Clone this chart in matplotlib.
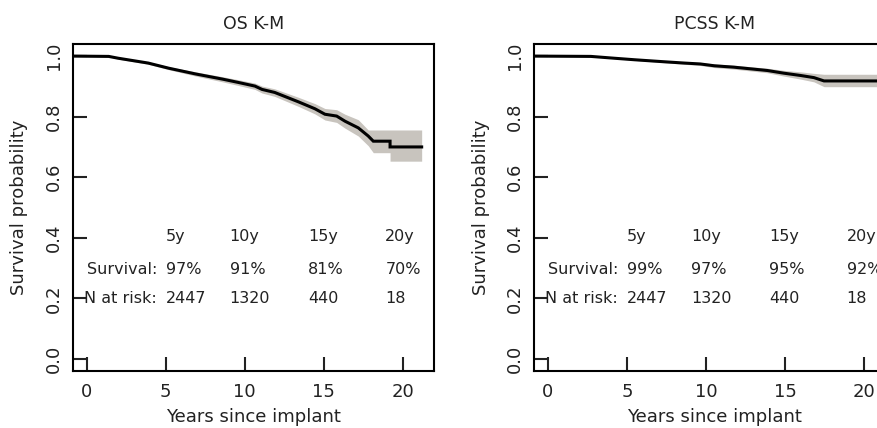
import matplotlib
matplotlib.use('Agg')
import matplotlib.pyplot as plt

# OS Kaplan-Meier curve and 95% band
os_t = [-0.75, 1.4, 2.0, 3.9, 5.2, 6.9, 8.6, 9.6, 10.65, 11.1, 11.9, 13.4, 14.45, 15.08, 15.82, 16.35, 17.19, 17.82, 18.14, 19.2, 19.2, 21.2]
os_s = [1.0, 0.999, 0.993, 0.977, 0.960, 0.941, 0.924, 0.913, 0.901, 0.890, 0.880, 0.849, 0.826, 0.808, 0.802, 0.785, 0.763, 0.736, 0.719, 0.719, 0.700, 0.700]
os_lo = [1.0, 0.998, 0.990, 0.973, 0.955, 0.934, 0.915, 0.903, 0.890, 0.878, 0.867, 0.834, 0.809, 0.789, 0.781, 0.762, 0.736, 0.704, 0.681, 0.681, 0.653, 0.653]
os_hi = [1.0, 1.0, 0.996, 0.981, 0.965, 0.948, 0.932, 0.922, 0.911, 0.901, 0.892, 0.864, 0.843, 0.827, 0.823, 0.808, 0.790, 0.756, 0.756, 0.756, 0.756, 0.756]

# PCSS Kaplan-Meier curve and 95% band
pc_t = [-0.75, 2.72, 4.2, 5.47, 7.16, 8.64, 9.65, 10.54, 11.76, 13.88, 14.93, 15.99, 16.83, 17.47, 21.2]
pc_s = [1.0, 0.999, 0.993, 0.988, 0.982, 0.977, 0.974, 0.968, 0.9635, 0.9525, 0.9436, 0.936, 0.929, 0.918, 0.918]
pc_lo = [1.0, 0.999, 0.992, 0.986, 0.979, 0.973, 0.969, 0.962, 0.957, 0.945, 0.934, 0.924, 0.915, 0.899, 0.899]
pc_hi = [1.0, 1.0, 0.995, 0.990, 0.985, 0.981, 0.979, 0.974, 0.970, 0.960, 0.953, 0.948, 0.943, 0.940, 0.940]

cols = ['5y', '10y', '15y', '20y']
col_x = [5.0, 9.05, 14.0, 18.9]
n_risk = ['2447', '1320', '440', '18']
os_pct = ['97%', '91%', '81%', '70%']
pc_pct = ['99%', '97%', '95%', '92%']

plt.rcParams['font.family'] = 'DejaVu Sans'
fig = plt.figure(figsize=(8.78, 4.28), dpi=100)
band = '#c8c4be'
ink = '#222222'

panels = [
    ('OS K-M', os_t, os_s, os_lo, os_hi, os_pct, [0.0828, 0.1332, 0.4115, 0.764]),
    ('PCSS K-M', pc_t, pc_s, pc_lo, pc_hi, pc_pct, [0.6082, 0.1332, 0.4115, 0.764]),
]

for title, t, s, lo, hi, pct, pos in panels:
    ax = fig.add_axes(pos)
    ax.fill_between(t, lo, hi, color=band, linewidth=0)
    ax.plot(t, s, color='black', linewidth=2.2, solid_joinstyle='miter')
    ax.set_xlim(-0.88, 21.98)
    ax.set_ylim(-0.04, 1.04)
    ax.set_xticks([0, 5, 10, 15, 20])
    ax.set_yticks([0.0, 0.2, 0.4, 0.6, 0.8, 1.0])
    ax.set_yticklabels(['0.0', '0.2', '0.4', '0.6', '0.8', '1.0'], rotation=90, va='center')
    ax.tick_params(direction='in', length=10, width=1.5, labelsize=13, colors=ink)
    ax.tick_params(axis='y', pad=7)
    ax.tick_params(axis='x', pad=9)
    for sp in ax.spines.values():
        sp.set_linewidth(1.5)
    ax.set_title(title, fontsize=12.5, pad=11, color=ink)
    ax.set_xlabel('Years since implant', fontsize=13, labelpad=5, color=ink)
    ax.set_ylabel('Survival probability', fontsize=13, labelpad=12, color=ink)

    # summary table inside the plot
    for x, c, p, n in zip(col_x, cols, pct, n_risk):
        ax.text(x, 0.403, c, fontsize=11.5, ha='left', va='center', color=ink)
        ax.text(x, 0.295, p, fontsize=11.5, ha='left', va='center', color=ink)
        ax.text(x, 0.198, n, fontsize=11.5, ha='left', va='center', color=ink)
    ax.text(4.45, 0.295, 'Survival:', fontsize=11.5, ha='right', va='center', color=ink)
    ax.text(4.45, 0.198, 'N at risk:', fontsize=11.5, ha='right', va='center', color=ink)

plt.savefig('out.png', dpi=100)
